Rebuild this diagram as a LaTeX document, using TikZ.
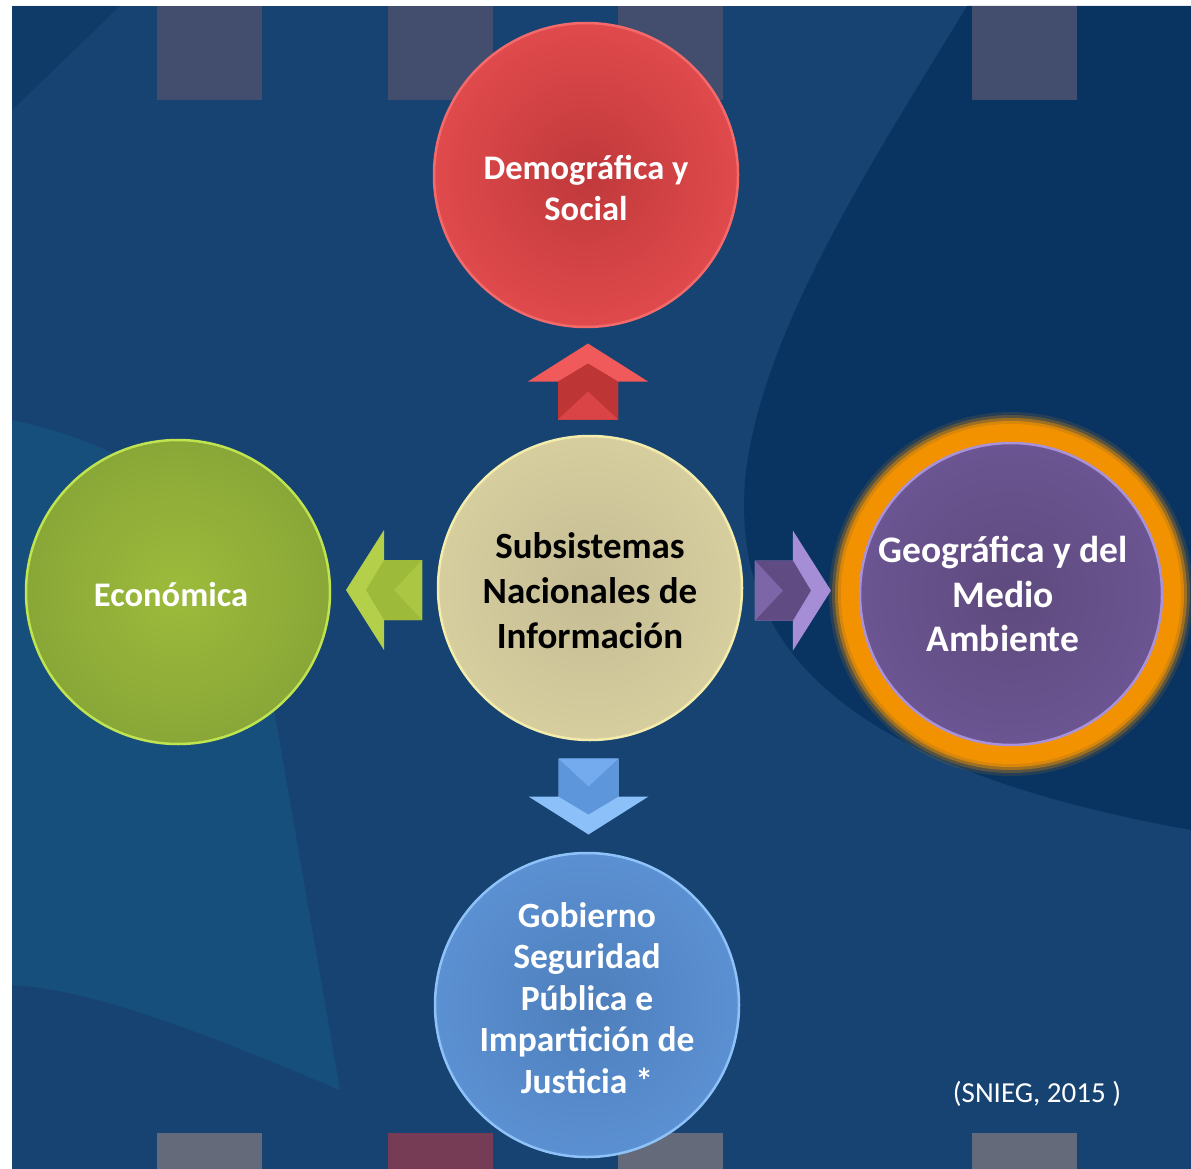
\documentclass[tikz,border=0pt]{standalone}
\usepackage{fontspec}
\setmainfont{Carlito}
\usepackage{tikz}
\usepackage{xcolor}
\usetikzlibrary{calc}

\definecolor{bgmain}{HTML}{164371}
\definecolor{bgdark}{HTML}{052F5D}
\definecolor{bglight}{HTML}{175684}
\definecolor{sqgray}{HTML}{434E6E}
\definecolor{sqgrayb}{HTML}{646A7A}
\definecolor{sqred}{HTML}{763C56}
\definecolor{redin}{HTML}{C0393B}
\definecolor{redout}{HTML}{E04A4C}
\definecolor{redrim}{HTML}{F46A6A}
\definecolor{corein}{HTML}{C5BC95}
\definecolor{coreout}{HTML}{D6CE9E}
\definecolor{corerim}{HTML}{F4ECAA}
\definecolor{ecoin}{HTML}{9DBB3B}
\definecolor{ecoout}{HTML}{89A737}
\definecolor{ecorim}{HTML}{C0E450}
\definecolor{geoin}{HTML}{5F4A7E}
\definecolor{geoout}{HTML}{6B5592}
\definecolor{georim}{HTML}{A992DA}
\definecolor{glow}{HTML}{F39200}
\definecolor{govin}{HTML}{4E7FBC}
\definecolor{govout}{HTML}{5B90D2}
\definecolor{govrim}{HTML}{8EC2F8}

\tikzset{
  bubble/.style={circle,minimum size=304pt,inner sep=0pt,line width=2.5pt},
  lbl/.style={align=center,text=white,font=\bfseries\fontsize{34.5}{41.5}\selectfont},
}

\begin{document}
\begin{tikzpicture}[x=1pt,y=-1pt]
\useasboundingbox (0,0) rectangle (1191,1169);
% background
\fill[bgmain] (12,6) rectangle (1191,1169);
\fill[bgdark,opacity=0.75] (967,6) .. controls (880,150) and (760,330) .. (745,480)
  .. controls (735,620) and (800,760) .. (1191,830) -- (1191,6) -- cycle;
\fill[bglight,opacity=0.6] (12,420) .. controls (150,450) and (240,520) .. (262,640)
  -- (340,1090) .. controls (220,1040) and (100,990) .. (12,985) -- cycle;
\fill[bgdark,opacity=0.4] (12,6) -- (120,6) -- (12,110) -- cycle;
\foreach \x/\c in {157/sqgray,388/sqgray,618/sqgray,972/sqgray}
  \fill[\c] (\x,6) rectangle ++(105,94);
\foreach \x/\c in {157/sqgrayb,388/sqred,618/sqgrayb,972/sqgrayb}
  \fill[\c] (\x,1133) rectangle ++(105,36);

% glow behind the right circle
\coordinate (geoc) at (1011,594);
\foreach \r/\o in {182/0.12,179/0.25,176/0.45,173/0.7,170/1}
  \fill[glow,opacity=\o] (geoc) circle (\r);

% circles
\node (demo) at (586,175) [bubble,draw=redrim,inner color=redin,outer color=redout] {};
\node (core) at (590,588) [bubble,draw=corerim,inner color=corein,outer color=coreout] {};
\node (eco) at (178,592) [bubble,draw=ecorim,inner color=ecoin,outer color=ecoout] {};
\node (geo) at (geoc) [bubble,minimum size=302pt,draw=georim,inner color=geoin,outer color=geoout] {};
\node (gov) at (587,1005) [bubble,draw=govrim,inner color=govin,outer color=govout] {};

% texts
\node (demotxt) at ([yshift=-13pt]demo.center) [lbl] {Demográfica y\\Social};
\node (coretxt) at ([yshift=-3pt]core.center) [lbl,text=black,font=\bfseries\fontsize{37}{45}\selectfont] {Subsistemas\\Nacionales de\\Información};
\node (ecotxt) at ([xshift=-7pt,yshift=-3pt]eco.center) [lbl] {Económica};
\node (geotxt) at ([xshift=-8pt]geo.center) [lbl,font=\bfseries\fontsize{37.5}{44.5}\selectfont] {Geográfica y del\\Medio\\Ambiente};
\node (govtxt) at ([yshift=7pt]gov.center) [lbl,font=\bfseries\fontsize{35.5}{41.5}\selectfont] {Gobierno\\Seguridad\\Pública e\\Impartición de\\Justicia *};
\node (src) at (1037,1094) [text=white,font=\fontsize{29}{32}\selectfont] {(SNIEG, 2015 )};

% block arrows
\begin{scope}[shift={($(core.north)!0.5!(demo.south)$)}]
\fill[fill={rgb,255:red,240;green,90;blue,90}] (-30,38) -- (-30,0) -- (-60,0) -- (0,-38) -- (60,0) -- (30,0) -- (30,38) -- cycle;
\fill[fill={rgb,255:red,190;green,53;blue,54}] (-30,38) -- (-30,0) -- (0,-18) -- (30,0) -- (30,38) -- cycle;
\fill[fill={rgb,255:red,218;green,68;blue,70}] (-30,38) -- (0,10) -- (30,38) -- cycle;
\end{scope}
\begin{scope}[shift={($(core.east)!0.43!(geo.west)$)},rotate=-90]
\fill[fill={rgb,255:red,166;green,142;blue,214}] (-30,38) -- (-30,0) -- (-60,0) -- (0,-38) -- (60,0) -- (30,0) -- (30,38) -- cycle;
\fill[fill={rgb,255:red,96;green,75;blue,130}] (-30,38) -- (-30,0) -- (0,-18) -- (30,0) -- (30,38) -- cycle;
\fill[fill={rgb,255:red,124;green,102;blue,168}] (-30,38) -- (0,10) -- (30,38) -- cycle;
\end{scope}
\begin{scope}[shift={($(core.west)!0.5!(eco.east)$)},rotate=90]
\fill[fill={rgb,255:red,180;green,208;blue,74}] (-30,38) -- (-30,0) -- (-60,0) -- (0,-38) -- (60,0) -- (30,0) -- (30,38) -- cycle;
\fill[fill={rgb,255:red,158;green,186;blue,58}] (-30,38) -- (-30,0) -- (0,-18) -- (30,0) -- (30,38) -- cycle;
\fill[fill={rgb,255:red,170;green,198;blue,66}] (-30,38) -- (0,10) -- (30,38) -- cycle;
\end{scope}
\begin{scope}[shift={($(core.south)!0.5!(gov.north)$)},rotate=180]
\fill[fill={rgb,255:red,140;green,192;blue,248}] (-30,38) -- (-30,0) -- (-60,0) -- (0,-38) -- (60,0) -- (30,0) -- (30,38) -- cycle;
\fill[fill={rgb,255:red,94;green,150;blue,220}] (-30,38) -- (-30,0) -- (0,-18) -- (30,0) -- (30,38) -- cycle;
\fill[fill={rgb,255:red,116;green,170;blue,238}] (-30,38) -- (0,10) -- (30,38) -- cycle;
\end{scope}
\end{tikzpicture}
\end{document}
